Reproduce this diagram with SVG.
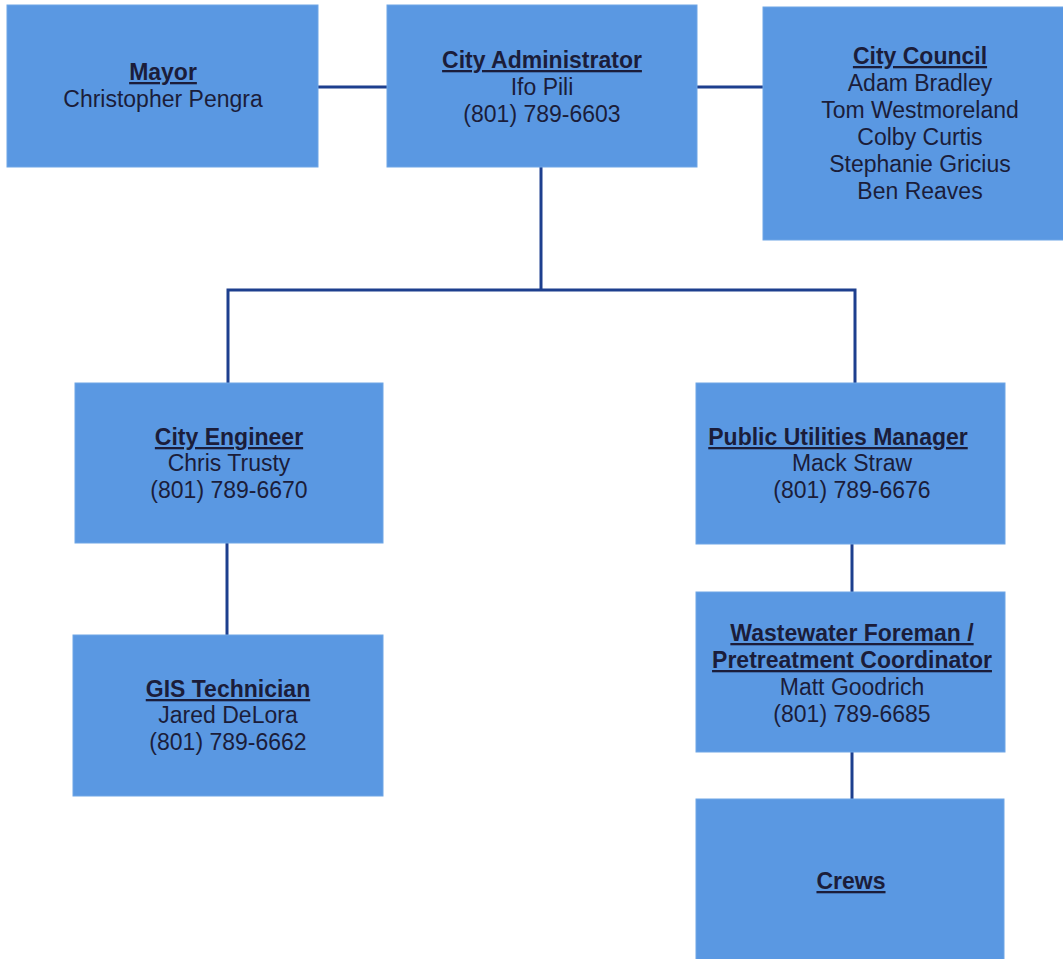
<svg xmlns="http://www.w3.org/2000/svg" width="1063" height="959" viewBox="0 0 1063 959">
<style>
.box{fill:#5A98E2;stroke:#6FA6E6;stroke-width:1}
.t{font-family:"Liberation Sans",Arial,sans-serif;font-size:23px;fill:#1B1D3A;text-anchor:middle}
.b{font-weight:bold;text-decoration:underline}
.c{stroke:#1D3F8E;stroke-width:3;fill:none}
</style>
<rect width="1063" height="959" fill="#ffffff"/>
<g id="connectors">
<line class="c" x1="318" y1="87" x2="387" y2="87"/>
<line class="c" x1="697" y1="87" x2="763" y2="87"/>
<line class="c" x1="541" y1="167" x2="541" y2="290"/>
<polyline class="c" points="228,383 228,290 855,290 855,383"/>
<line class="c" x1="227" y1="543" x2="227" y2="635"/>
<line class="c" x1="852" y1="544" x2="852" y2="592"/>
<line class="c" x1="852" y1="752" x2="852" y2="799"/>
</g>
<g id="mayor">
<rect class="box" x="7" y="5" width="311" height="162"/>
<text class="t b" x="163" y="80">Mayor</text>
<text class="t" x="163" y="107">Christopher Pengra</text>
</g>
<g id="city-administrator">
<rect class="box" x="387" y="5" width="310" height="162"/>
<text class="t b" x="542" y="68">City Administrator</text>
<text class="t" x="542" y="95">Ifo Pili</text>
<text class="t" x="542" y="122">(801) 789-6603</text>
</g>
<g id="city-council">
<rect class="box" x="763" y="7" width="310" height="233"/>
<text class="t b" x="920" y="64">City Council</text>
<text class="t" x="920" y="91">Adam Bradley</text>
<text class="t" x="920" y="118">Tom Westmoreland</text>
<text class="t" x="920" y="145">Colby Curtis</text>
<text class="t" x="920" y="172">Stephanie Gricius</text>
<text class="t" x="920" y="199">Ben Reaves</text>
</g>
<g id="city-engineer">
<rect class="box" x="75" y="383" width="308" height="160"/>
<text class="t b" x="229" y="445">City Engineer</text>
<text class="t" x="229" y="471">Chris Trusty</text>
<text class="t" x="229" y="498">(801) 789-6670</text>
</g>
<g id="public-utilities-manager">
<rect class="box" x="696" y="383" width="309" height="161"/>
<text class="t b" x="838" y="445">Public Utilities Manager</text>
<text class="t" x="852" y="471">Mack Straw</text>
<text class="t" x="852" y="498">(801) 789-6676</text>
</g>
<g id="gis-technician">
<rect class="box" x="73" y="635" width="310" height="161"/>
<text class="t b" x="228" y="697">GIS Technician</text>
<text class="t" x="228" y="723">Jared DeLora</text>
<text class="t" x="228" y="750">(801) 789-6662</text>
</g>
<g id="wastewater-foreman">
<rect class="box" x="696" y="592" width="309" height="160"/>
<text class="t b" x="852" y="641">Wastewater Foreman /</text>
<text class="t b" x="852" y="668">Pretreatment Coordinator</text>
<text class="t" x="852" y="695">Matt Goodrich</text>
<text class="t" x="852" y="722">(801) 789-6685</text>
</g>
<g id="crews">
<rect class="box" x="696" y="799" width="308" height="165"/>
<text class="t b" x="851" y="889">Crews</text>
</g>
</svg>
